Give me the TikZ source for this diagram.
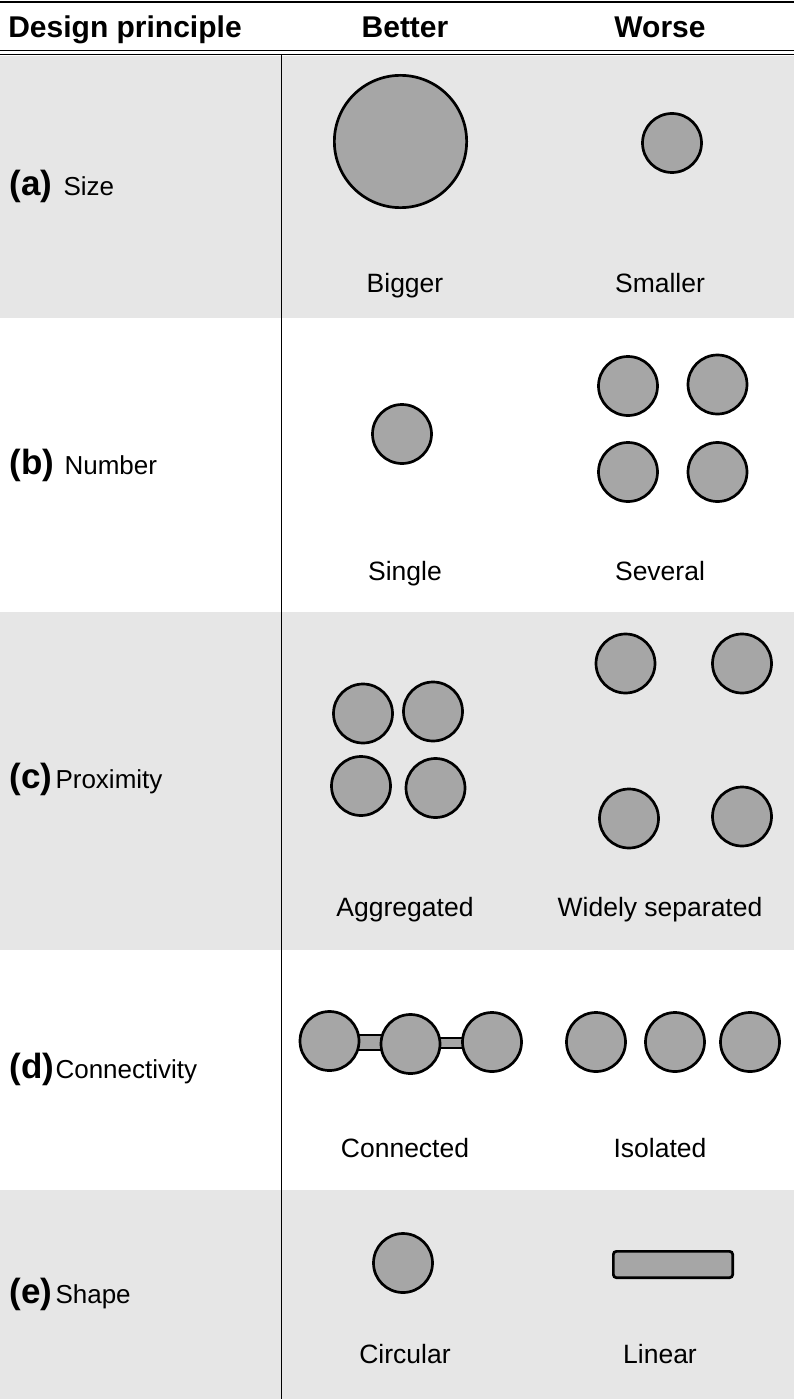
\documentclass[tikz,border=0pt]{standalone}
\usepackage{fontspec}
\setmainfont{Liberation Sans}
\usetikzlibrary{calc,positioning,backgrounds}
\definecolor{discgray}{HTML}{A6A6A6}
\definecolor{rowgray}{HTML}{E6E6E6}

\begin{document}
\begin{tikzpicture}[x=1pt,y=-1pt,
  disc/.style={circle,draw=black,fill=discgray,line width=2.7pt,
    minimum size=59pt,inner sep=0pt},
  link/.style={draw=black,fill=discgray,line width=2.2pt},
  head/.style={anchor=base,font=\fontsize{30}{34}\selectfont\bfseries},
  tag/.style={anchor=base west,font=\fontsize{35}{38}\selectfont\bfseries},
  principle/.style={anchor=base west,font=\fontsize{26}{30}\selectfont},
  verdict/.style={anchor=base,font=\fontsize{26.5}{30}\selectfont}]
\useasboundingbox (0,0) rectangle (794,1399);

% shaded rows and rules
\begin{scope}[on background layer]
\fill[rowgray] (0,56) rectangle (794,318);
\fill[rowgray] (0,612) rectangle (794,950);
\fill[rowgray] (0,1190) rectangle (794,1399);
\end{scope}
\draw[line width=2pt] (0,2) -- (794,2);
\draw[line width=1.2pt] (0,50.5) -- (794,50.5);
\draw[line width=1.2pt] (0,54.5) -- (794,54.5);
\draw[line width=1pt] (281,55) -- (281,1399);

% header
\node[head] (hPrin) at (125,38) {Design principle};
\node[head] (hBet) at (405,38) {Better};
\node[head] (hWor) at (660,38) {Worse};

% (a) size
\node[tag] (tA) at (6,196) {(a)};
\node[principle] (pA) at (60,196) {Size};
\node[disc,minimum size=132.3pt] (big) at (400.5,141.5) {};
\node[disc] (small) at (672,143) {};
\node[verdict] (vA1) at (405,292) {Bigger};
\node[verdict] (vA2) at (660,292) {Smaller};

% (b) number
\node[tag] (tB) at (6,474) {(b)};
\node[principle] (pB) at (61,474) {Number};
\node[disc] (single) at (402,434) {};
\node[disc] (sevA) at (628,386) {};
\node[disc] (sevB) at (717.5,384.5) {};
\node[disc] (sevC) at (628,472) {};
\node[disc] (sevD) at (717.5,472) {};
\node[verdict] (vB1) at (405,580) {Single};
\node[verdict] (vB2) at (660,580) {Several};

% (c) proximity
\node[tag] (tC) at (6,788) {(c)};
\node[principle] (pC) at (52,788) {Proximity};
\node[disc] (aggA) at (363,713.5) {};
\node[disc] (aggB) at (433,711.5) {};
\node[disc] (aggC) at (361,786) {};
\node[disc] (aggD) at (435.5,788) {};
\node[disc] (sepA) at (625.5,663.5) {};
\node[disc] (sepB) at (742,663.5) {};
\node[disc] (sepC) at (629,818.5) {};
\node[disc] (sepD) at (742,816.5) {};
\node[verdict] (vC1) at (405,916) {Aggregated};
\node[verdict] (vC2) at (660,916) {Widely separated};

% (d) connectivity
\node[tag] (tD) at (6,1078) {(d)};
\node[principle] (pD) at (52,1078) {Connectivity};
\node[disc] (conA) at (329.5,1041) {};
\node[disc] (conB) at (410.5,1044) {};
\node[disc] (conC) at (492,1042) {};
\begin{scope}[on background layer]
\draw[link] ($(conA.east)+(-4,-6)$) rectangle ($(conB.west)+(4,6)$);
\draw[link] ($(conB.east)+(-4,-6)$) rectangle ($(conC.west)+(4,6)$);
\end{scope}
\node[disc] (isoA) at (596,1042) {};
\node[disc] (isoB) at (675,1042) {};
\node[disc] (isoC) at (750,1042) {};
\node[verdict] (vD1) at (405,1157) {Connected};
\node[verdict] (vD2) at (660,1157) {Isolated};

% (e) shape
\node[tag] (tE) at (6,1303) {(e)};
\node[principle] (pE) at (52,1303) {Shape};
\node[disc] (circ) at (403,1263) {};
\node[disc,rectangle,rounded corners=3pt,minimum width=119.3pt,
  minimum height=26.3pt] (bar) at (673,1264.5) {};
\node[verdict] (vE1) at (405,1363) {Circular};
\node[verdict] (vE2) at (660,1363) {Linear};
\end{tikzpicture}
\end{document}
